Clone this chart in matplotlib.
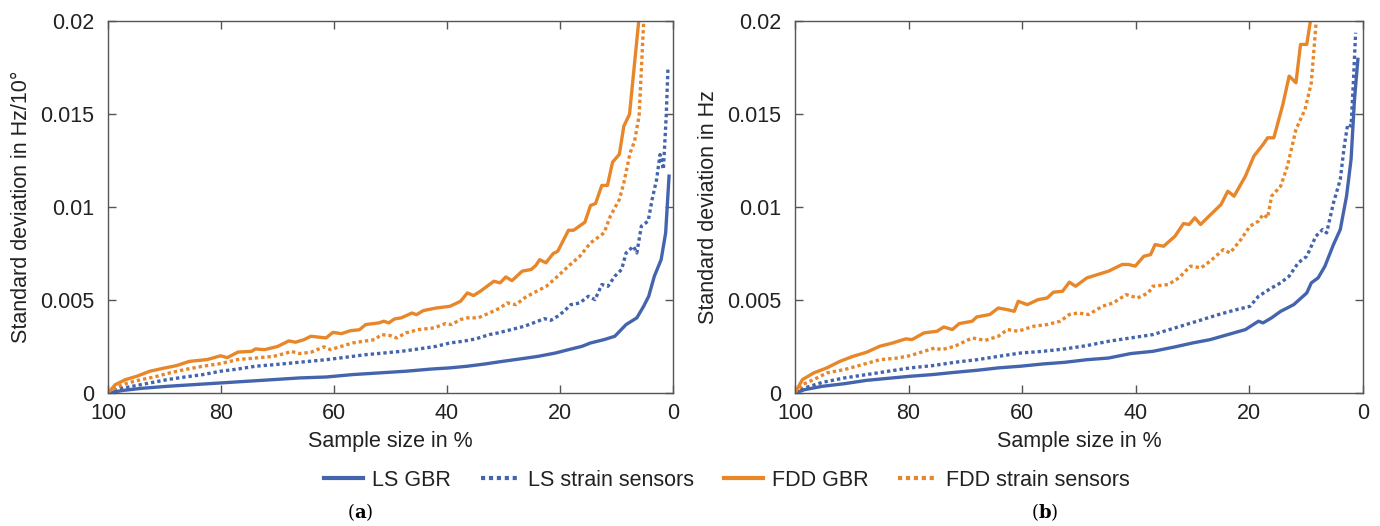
import matplotlib
matplotlib.use("Agg")
import matplotlib.pyplot as plt
from matplotlib.lines import Line2D

plt.rcParams['font.family'] = ['Liberation Sans Narrow', 'Liberation Sans', 'DejaVu Sans']
plt.rcParams['mathtext.fontset'] = 'dejavuserif'

BLUE = '#4465ad'
ORANGE = '#e8862a'

# ---- panel (a): values in Hz/10deg ----
a_fdd_gbr_x = [100, 98.7, 96.9, 94.9, 92.6, 89.9, 87.9, 85.6, 82.4, 80.1, 78.9, 77, 74.6, 73.9, 72.3, 70,
               68, 66.8, 65.3, 64.1, 61.4, 60.2, 58.7, 57.1, 55.5, 54.4, 52, 51.2, 50.3, 49.3, 48.1, 46.2,
               45.4, 44.2, 41.9, 39.5, 37.6, 36.4, 35.3, 34.1, 31.7, 30.6, 29.6, 28.5, 26.7, 25.1, 24.3,
               23.6, 22.5, 21.2, 20.4, 18.5, 17.6, 15.6, 14.6, 13.7, 12.6, 11.6, 10.7, 9.5, 8.7, 7.7, 5.9]
a_fdd_gbr_y = [0, 0.00045, 0.00072, 0.0009, 0.00117, 0.00135, 0.00147, 0.0017, 0.0018, 0.002, 0.0019,
               0.0022, 0.00224, 0.00237, 0.00233, 0.0025, 0.0028, 0.00273, 0.00287, 0.00305, 0.00296,
               0.00326, 0.00319, 0.00335, 0.0034, 0.00368, 0.00377, 0.00386, 0.00377, 0.00398, 0.00404,
               0.0043, 0.00421, 0.00443, 0.00457, 0.00466, 0.00493, 0.00538, 0.00524, 0.00547, 0.00601,
               0.00592, 0.00624, 0.00604, 0.00655, 0.00664, 0.00685, 0.00717, 0.007, 0.0075, 0.00762,
               0.00875, 0.00875, 0.00918, 0.01008, 0.01019, 0.01116, 0.01116, 0.01241, 0.01283, 0.01435,
               0.01498, 0.0205]

a_fdd_ss_x = [100, 98.4, 96.5, 94.1, 91.8, 89.1, 86.4, 83.2, 80.1, 77, 73.9, 70.7, 68.4, 67.6, 66.1, 64.1,
              61.8, 60.6, 58.7, 56.7, 54.8, 52.8, 51.6, 50.1, 48.9, 47.3, 45, 42.3, 40.3, 39.2, 37.6, 36.4,
              34.5, 32.5, 30.6, 29.4, 27.8, 26.3, 24.7, 22.4, 20.4, 18.5, 16.5, 14.6, 12.2, 11.1, 9.5, 8.7,
              7.6, 6.8, 6.0, 5.1]
a_fdd_ss_y = [0, 0.00032, 0.00054, 0.00072, 0.00086, 0.00108, 0.00126, 0.00144, 0.00158, 0.0018, 0.00188,
              0.00197, 0.00215, 0.00224, 0.00212, 0.00219, 0.00248, 0.00233, 0.00251, 0.00269, 0.00278,
              0.00287, 0.00314, 0.00309, 0.00296, 0.00323, 0.00341, 0.0035, 0.00373, 0.00368, 0.00395,
              0.00404, 0.00404, 0.0043, 0.00457, 0.00484, 0.00475, 0.00511, 0.00538, 0.00574, 0.00628,
              0.00682, 0.00735, 0.00807, 0.00861, 0.0095, 0.0104, 0.0113, 0.0129, 0.01354, 0.0149, 0.0205]

a_ls_ss_x = [100, 98, 95.7, 92.6, 89.5, 86.4, 83.2, 80.1, 77, 73.9, 70.7, 67.6, 64.5, 61.4, 59, 56.7, 54.4,
             51.2, 48.1, 45, 41.9, 39.5, 37.2, 34.9, 32.5, 31, 28.6, 26.3, 23.9, 22.8, 21.6, 20.4, 19.3,
             18.1, 16.5, 15, 13.8, 12.6, 11.5, 10.3, 9.1, 8.3, 7.0, 6.4, 5.6, 4.4, 3.7, 2.9, 2.3, 1.7,
             1.2, 0.9]
a_ls_ss_y = [0, 0.00022, 0.00036, 0.00054, 0.00072, 0.00086, 0.00099, 0.00117, 0.00129, 0.00144, 0.00152,
             0.00161, 0.0017, 0.00179, 0.00188, 0.00197, 0.00206, 0.00215, 0.00224, 0.00237, 0.00251,
             0.00269, 0.00278, 0.00291, 0.00314, 0.00323, 0.00341, 0.00359, 0.00386, 0.004, 0.00391,
             0.00413, 0.00439, 0.00475, 0.00484, 0.0052, 0.00502, 0.00583, 0.00574, 0.00628, 0.00664,
             0.00753, 0.00789, 0.00753, 0.00897, 0.00924, 0.0104, 0.01148, 0.01282, 0.01202, 0.01489,
             0.0174]

a_ls_gbr_x = [100, 97.3, 94.1, 89.5, 84.8, 80.1, 75.4, 70.7, 66.1, 61.4, 56.7, 52, 47.3, 42.7, 39.5, 36.4,
              33.3, 30.2, 27.1, 23.9, 20.8, 18.5, 16.1, 14.6, 12.2, 10.3, 8.3, 6.4, 5.2, 4.3, 3.3, 2.1,
              1.3, 0.7]
a_ls_gbr_y = [0, 0.00014, 0.00025, 0.00036, 0.00045, 0.00054, 0.00063, 0.00072, 0.00081, 0.00086, 0.00099,
              0.00108, 0.00117, 0.00129, 0.00135, 0.00144, 0.00156, 0.0017, 0.00183, 0.00197, 0.00215,
              0.00233, 0.00251, 0.00269, 0.00287, 0.00305, 0.00368, 0.00404, 0.00466, 0.0052, 0.00628,
              0.00717, 0.00861, 0.01166]

# ---- panel (b): values in Hz ----
b_fdd_gbr_x = [100, 98.7, 96.7, 94.4, 92.1, 89.8, 87.4, 85.1, 82.8, 80.5, 79.4, 77.3, 75, 73.8, 72.3, 71.1,
               68.8, 68, 65.7, 64.2, 62.6, 61.4, 60.7, 59.1, 57.2, 55.6, 54.5, 52.9, 51.7, 50.6, 48.6, 46.7,
               44.8, 42.4, 41.3, 40.1, 38.6, 37.4, 36.6, 35.1, 33.1, 31.6, 30.6, 29.6, 28.6, 26.5, 25,
               23.8, 22.7, 20.7, 19.2, 17.6, 16.8, 15.7, 14.1, 13, 11.8, 11, 9.9, 9.0]
b_fdd_gbr_y = [0, 0.00072, 0.00108, 0.00135, 0.0017, 0.00197, 0.00219, 0.00251, 0.00269, 0.00291, 0.00287,
               0.00323, 0.00332, 0.00355, 0.00341, 0.00373, 0.00386, 0.00409, 0.00422, 0.00457, 0.00448,
               0.00439, 0.00493, 0.00475, 0.00502, 0.00511, 0.00542, 0.00547, 0.00596, 0.00574, 0.00619,
               0.00637, 0.00655, 0.00691, 0.00691, 0.00682, 0.00735, 0.00744, 0.00798, 0.00789, 0.00843,
               0.00911, 0.00906, 0.00942, 0.00906, 0.00969, 0.01013, 0.01085, 0.01058, 0.01166, 0.01274,
               0.01336, 0.01372, 0.01372, 0.01552, 0.01704, 0.01668, 0.01874, 0.01874, 0.0205]

b_fdd_ss_x = [100, 98.7, 96.7, 94.4, 91.3, 88.2, 85.1, 82, 79.7, 77.3, 75.4, 74.2, 71.9, 68.8, 66.5, 64.2,
              62.6, 60.7, 58, 55.6, 53.3, 51.7, 50.2, 48.3, 45.9, 44, 41.7, 39.7, 37.8, 37, 34.3, 32.4,
              30.4, 28.5, 26.9, 24.6, 23.4, 21.5, 19.9, 18.4, 17.6, 16.8, 16.1, 14.5, 13.3, 11.8, 10.2,
              9.1, 8.1]
b_fdd_ss_y = [0, 0.00045, 0.00072, 0.00108, 0.00126, 0.00152, 0.00179, 0.00188, 0.00201, 0.00224, 0.00242,
              0.00233, 0.00251, 0.00296, 0.00283, 0.00305, 0.00341, 0.00332, 0.00359, 0.00368, 0.00386,
              0.00422, 0.0043, 0.00422, 0.00466, 0.00484, 0.00529, 0.00511, 0.00538, 0.00574, 0.00583,
              0.00619, 0.00682, 0.00673, 0.00709, 0.00771, 0.00753, 0.00825, 0.00897, 0.00924, 0.0096,
              0.00942, 0.01058, 0.01112, 0.0122, 0.01417, 0.01525, 0.01668, 0.0205]

b_ls_ss_x = [100, 98.3, 95.2, 91.3, 87.4, 83.6, 79.7, 75.8, 71.9, 68, 64.2, 60.3, 56.4, 52.5, 48.6, 44.8,
             40.9, 37, 33.1, 29.2, 25.4, 22.3, 19.9, 18.4, 16.1, 14.5, 13, 11.4, 9.9, 8.3, 7.1, 6.4, 5.2,
             4, 3.3, 2.7, 2.1, 1.7, 1.3]
b_ls_ss_y = [0, 0.00027, 0.00057, 0.00081, 0.00099, 0.00117, 0.00135, 0.00147, 0.00165, 0.00179, 0.00197,
             0.00215, 0.00224, 0.00237, 0.00255, 0.00278, 0.00296, 0.00314, 0.0035, 0.00386, 0.00422,
             0.00448, 0.00466, 0.0052, 0.00565, 0.00592, 0.00628, 0.007, 0.00735, 0.00843, 0.00879,
             0.00861, 0.01022, 0.01148, 0.01327, 0.01444, 0.01435, 0.01668, 0.01937]

b_ls_gbr_x = [100, 98.3, 95.2, 91.3, 87.4, 83.6, 79.7, 75.8, 71.9, 68, 64.2, 60.3, 56.4, 52.5, 48.6, 44.8,
              40.9, 37, 33.1, 30, 26.9, 23.8, 20.7, 18.4, 17.6, 16.1, 14.5, 12.2, 9.9, 9.1, 7.9, 6.7, 5.2,
              4, 2.9, 2.1, 1.5, 0.9]
b_ls_gbr_y = [0, 0.00018, 0.00036, 0.0005, 0.00068, 0.00079, 0.0009, 0.00099, 0.00111, 0.00122, 0.00135,
              0.00144, 0.00156, 0.00165, 0.00179, 0.00188, 0.00212, 0.00224, 0.00248, 0.00269, 0.00287,
              0.00314, 0.00341, 0.00386, 0.00377, 0.00404, 0.00439, 0.00475, 0.00538, 0.00592, 0.00619,
              0.00682, 0.00798, 0.00879, 0.01058, 0.01256, 0.01578, 0.01794]

ylabels = ['Standard deviation in Hz/10°', 'Standard deviation in Hz']
panel_tags = [r'($\mathbf{a}$)', r'($\mathbf{b}$)']

fig = plt.figure(figsize=(13.8, 5.26), dpi=100)
ax_a = fig.add_axes([108 / 1380, 1 - 393 / 526, 565 / 1380, 372 / 526])
ax_b = fig.add_axes([795 / 1380, 1 - 393 / 526, 568 / 1380, 372 / 526])

panels = [
    (ax_a, a_ls_gbr_x, a_ls_gbr_y, a_ls_ss_x, a_ls_ss_y, a_fdd_gbr_x, a_fdd_gbr_y, a_fdd_ss_x, a_fdd_ss_y),
    (ax_b, b_ls_gbr_x, b_ls_gbr_y, b_ls_ss_x, b_ls_ss_y, b_fdd_gbr_x, b_fdd_gbr_y, b_fdd_ss_x, b_fdd_ss_y),
]

dot = (0, (1.0, 0.9))
lw = 2.4
fs = 15.5
for i, (ax, x1, y1, x2, y2, x3, y3, x4, y4) in enumerate(panels):
    ax.plot(x2, y2, color=BLUE, lw=lw, ls=dot)
    ax.plot(x4, y4, color=ORANGE, lw=lw, ls=dot)
    ax.plot(x1, y1, color=BLUE, lw=lw)
    ax.plot(x3, y3, color=ORANGE, lw=lw)
    ax.set_xlim(100, 0)
    ax.set_ylim(0, 0.02)
    ax.set_xticks([100, 80, 60, 40, 20, 0])
    ax.set_yticks([0, 0.005, 0.01, 0.015, 0.02])
    ax.set_yticklabels(['0', '0.005', '0.01', '0.015', '0.02'])
    ax.tick_params(direction='in', length=6, width=1, color='#555555', labelsize=fs,
                   top=True, right=True, labelcolor='#222222')
    ax.tick_params(axis='y', pad=10)
    ax.tick_params(axis='x', pad=7)
    for sp in ax.spines.values():
        sp.set_color('#555555')
        sp.set_linewidth(1)
    ax.set_xlabel('Sample size in %', fontsize=fs, labelpad=5, color='#222222')
    ax.set_ylabel(ylabels[i], fontsize=fs, labelpad=6, color='#222222')

fig.text(360 / 1380, 1 - 512 / 526, panel_tags[0], fontsize=13, ha='center', va='center', family='DejaVu Serif')
fig.text(1045 / 1380, 1 - 512 / 526, panel_tags[1], fontsize=13, ha='center', va='center', family='DejaVu Serif')

handles = [
    Line2D([], [], color=BLUE, lw=3),
    Line2D([], [], color=BLUE, lw=3, ls=dot),
    Line2D([], [], color=ORANGE, lw=3),
    Line2D([], [], color=ORANGE, lw=3, ls=dot),
]
labels = ['LS GBR', 'LS strain sensors', 'FDD GBR', 'FDD strain sensors']
fig.legend(handles, labels, loc='center', bbox_to_anchor=(727 / 1380, 1 - 480 / 526), ncol=4,
           frameon=False, fontsize=fs, handlelength=1.8, handletextpad=0.4, columnspacing=1.4,
           labelcolor='#222222')

fig.savefig('out.png', dpi=100)
